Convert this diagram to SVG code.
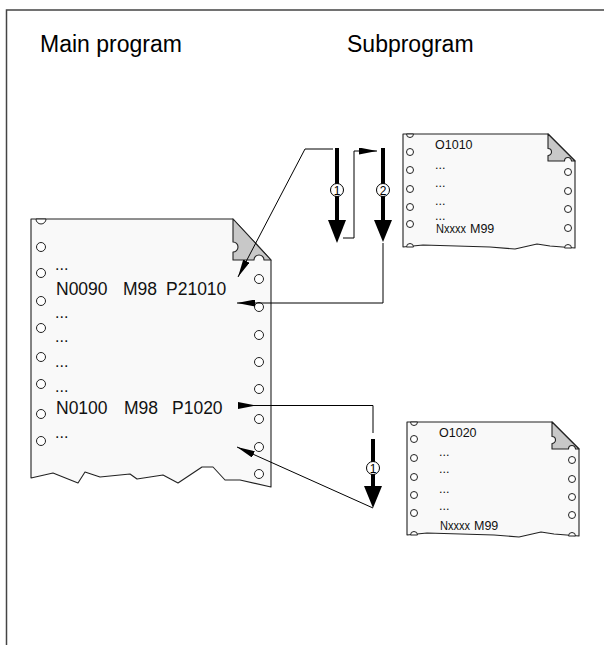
<svg xmlns="http://www.w3.org/2000/svg" width="604" height="645" viewBox="0 0 604 645">
<style>
.frame{fill:none;stroke:#444;stroke-width:1.5}
.head{font-family:"Liberation Sans",Arial,sans-serif;font-size:23px;fill:#000}
.code{font-family:"Liberation Sans",Arial,sans-serif;font-size:17.5px;fill:#111}
.dots{font-family:"Liberation Sans",Arial,sans-serif;font-size:16px;fill:#111}
.scode{font-family:"Liberation Sans",Arial,sans-serif;font-size:12.5px;fill:#111}
.paper{fill:#f9f9f9;stroke:#222;stroke-width:1.1;stroke-linejoin:round}
.fold{fill:#c8c8c8;stroke:#222;stroke-width:1.1;stroke-linejoin:round}
.hole{fill:#fff;stroke:#222;stroke-width:1}
.thin{fill:none;stroke:#000;stroke-width:1}
.thick{stroke:#000;stroke-width:4}
.num{font-family:"Liberation Sans",Arial,sans-serif;font-size:12px;fill:#000;text-anchor:middle}
</style>
<defs>
<marker id="ah" markerUnits="userSpaceOnUse" markerWidth="18" markerHeight="7" refX="18" refY="3.5" orient="auto">
<path d="M0,0 L18,3.5 L0,7 Z" fill="#000"/>
</marker>
<marker id="wedge" markerUnits="userSpaceOnUse" markerWidth="18" markerHeight="7" refX="0" refY="3.5" orient="auto">
<path d="M0,0 L18,3.5 L0,7 Z" fill="#000"/>
</marker>
<path id="subOutline" d="M0,0 L145,0 L172,27 L172,114 L147,112 L134,110 L112,115 L87,113 L20,111 L0,113 Z"/>
<path id="subFold" d="M145,0 L145,14.5 A3.5,3.5 0 0 1 145,21.5 L145,27 L161.5,27 A3.5,3.5 0 0 1 168.5,27 L172,27 Z"/>
<circle id="sh" r="3.5"/>
</defs>

<path class="frame" d="M6.5,645 L6.5,10 L604,10"/>
<text class="head" x="40" y="52">Main program</text>
<text class="head" x="347" y="52">Subprogram</text>

<g id="main-program">
<path class="paper" d="M31,219 L233,219 L271,260 L271,487 L240,480 L225,480 L213,467 L202,467 L178,483 L163,475 L137,479 L130,474 L100,477 L85,472 L78,483 L53,473 L31,478 Z"/>
<path class="fold" d="M233,219 L233,242 A5,5 0 0 1 233,252 L233,260 L254,260 A5,5 0 0 1 264,260 L271,260 Z"/>
<path class="hole" d="M36,219 A5,5 0 0 0 46,219 Z"/>
<g class="hole">
<circle cx="41" cy="247" r="4.5"/><circle cx="41" cy="273" r="4.5"/><circle cx="41" cy="301" r="4.5"/><circle cx="41" cy="328" r="4.5"/>
<circle cx="41" cy="357" r="4.5"/><circle cx="41" cy="384" r="4.5"/><circle cx="41" cy="414" r="4.5"/><circle cx="41" cy="441" r="4.5"/>
<circle cx="259" cy="279" r="4.5"/><circle cx="259" cy="307" r="4.5"/><circle cx="259" cy="335" r="4.5"/><circle cx="259" cy="362" r="4.5"/>
<circle cx="259" cy="389" r="4.5"/><circle cx="259" cy="419" r="4.5"/><circle cx="259" cy="447" r="4.5"/><circle cx="259" cy="474" r="4.5"/>
</g>
<text class="dots" x="55" y="270">...</text>
<text class="code" y="295"><tspan x="56">N0090</tspan><tspan x="123">M98</tspan><tspan x="166">P21010</tspan></text>
<text class="dots" x="55" y="318">...</text>
<text class="dots" x="55" y="342">...</text>
<text class="dots" x="55" y="367">...</text>
<text class="dots" x="55" y="392">...</text>
<text class="code" y="414"><tspan x="56">N0100</tspan><tspan x="124">M98</tspan><tspan x="172">P1020</tspan></text>
<text class="dots" x="55" y="438">...</text>
</g>

<g id="subprogram-1010" transform="translate(403,134)">
<use href="#subOutline" class="paper"/>
<use href="#subFold" class="fold"/>
<g class="hole">
<path d="M3.5,0 A3.5,3.5 0 0 0 10.5,0 Z"/>
<path d="M3.5,113 A3.5,3.5 0 0 1 10.5,113 Z"/>
<path d="M161.5,114 A3.5,3.5 0 0 1 168.5,114 Z"/>
<use href="#sh" x="7" y="18"/><use href="#sh" x="7" y="36"/><use href="#sh" x="7" y="55"/><use href="#sh" x="7" y="73"/><use href="#sh" x="7" y="90"/>
<use href="#sh" x="165" y="38"/><use href="#sh" x="165" y="57"/><use href="#sh" x="165" y="75"/><use href="#sh" x="165" y="94"/>
</g>
<text class="scode" x="32" y="15">O1010</text>
<text class="scode" x="32" y="35">...</text>
<text class="scode" x="32" y="53">...</text>
<text class="scode" x="32" y="71">...</text>
<text class="scode" x="32" y="86">...</text>
<text class="scode" x="33" y="99" textLength="30" lengthAdjust="spacingAndGlyphs">Nxxxx</text>
<text class="scode" x="67" y="99">M99</text>
</g>

<g id="subprogram-1020" transform="translate(407,422)">
<use href="#subOutline" class="paper"/>
<use href="#subFold" class="fold"/>
<g class="hole">
<path d="M3.5,0 A3.5,3.5 0 0 0 10.5,0 Z"/>
<path d="M3.5,113 A3.5,3.5 0 0 1 10.5,113 Z"/>
<path d="M161.5,114 A3.5,3.5 0 0 1 168.5,114 Z"/>
<use href="#sh" x="7" y="17"/><use href="#sh" x="7" y="36"/><use href="#sh" x="7" y="55"/><use href="#sh" x="7" y="73"/><use href="#sh" x="7" y="91"/>
<use href="#sh" x="165" y="38"/><use href="#sh" x="165" y="57"/><use href="#sh" x="165" y="75"/><use href="#sh" x="165" y="93"/>
</g>
<text class="scode" x="32" y="15">O1020</text>
<text class="scode" x="32" y="34">...</text>
<text class="scode" x="32" y="51">...</text>
<text class="scode" x="32" y="71">...</text>
<text class="scode" x="32" y="88">...</text>
<text class="scode" x="33" y="108" textLength="30" lengthAdjust="spacingAndGlyphs">Nxxxx</text>
<text class="scode" x="67" y="108">M99</text>
</g>

<g id="connectors">
<polyline class="thin" points="333,149 305,149 238,277" marker-end="url(#ah)"/>
<polyline class="thin" points="343,238 354,238 354,151 377,151" marker-end="url(#ah)"/>
<polyline class="thin" points="383,243 383,303 237,303" marker-end="url(#ah)"/>
<polyline class="thin" points="238,405.5 373,405.5 373,433" marker-start="url(#wedge)"/>
<line class="thin" x1="373" y1="508" x2="237" y2="447" marker-end="url(#ah)"/>

<line class="thick" x1="337" y1="148" x2="337" y2="222"/>
<polygon points="328,220 346,220 337,243" fill="#000"/>
<circle cx="337" cy="190" r="6.5" fill="#fff" stroke="#000" stroke-width="1"/>
<text class="num" x="337" y="194.5">1</text>

<line class="thick" x1="383" y1="148" x2="383" y2="222"/>
<polygon points="374,220 392,220 383,242" fill="#000"/>
<circle cx="383" cy="190" r="6.5" fill="#fff" stroke="#000" stroke-width="1"/>
<text class="num" x="383" y="194.5">2</text>

<line class="thick" x1="373" y1="439" x2="373" y2="488"/>
<polygon points="364,486 382,486 373,508" fill="#000"/>
<circle cx="373" cy="468" r="6.5" fill="#fff" stroke="#000" stroke-width="1"/>
<text class="num" x="373" y="472.5">1</text>
</g>
</svg>
